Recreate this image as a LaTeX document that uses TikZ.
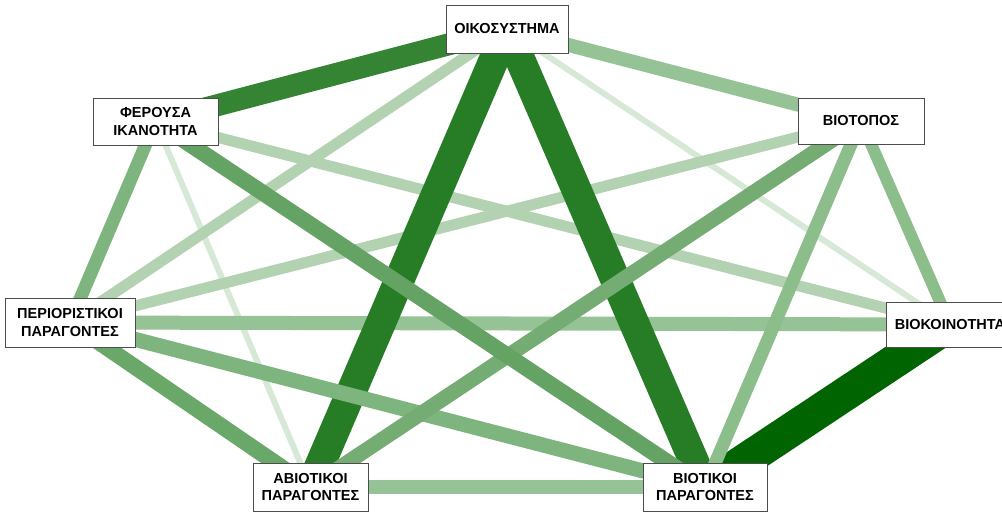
\documentclass[tikz,border=0pt]{standalone}
\usepackage{fontspec}
\setmainfont{Liberation Sans}
\usetikzlibrary{shadows}
\pgfdeclarelayer{background}
\pgfsetlayers{background,main}
\definecolor{ga}{RGB}{0,100,0}
\definecolor{gb}{RGB}{38,125,38}
\definecolor{gc}{RGB}{52,132,52}
\definecolor{gd}{RGB}{100,163,100}
\definecolor{ge}{RGB}{106,168,106}
\definecolor{gf}{RGB}{116,172,116}
\definecolor{gg}{RGB}{126,180,126}
\definecolor{gh}{RGB}{140,190,140}
\definecolor{gi}{RGB}{150,195,150}
\definecolor{gj}{RGB}{178,210,178}
\definecolor{gk}{RGB}{214,232,214}
\begin{document}
\begin{tikzpicture}[x=1pt,y=-1pt,
  box/.style={draw=black!70, line width=0.6pt, fill=white, align=center,
    font=\bfseries\fontsize{14.5}{17.7}\selectfont, inner sep=0pt,
    drop shadow={shadow xshift=1.3pt, shadow yshift=-1.3pt, fill=black!60, opacity=0.5}},
  ed/.style 2 args={line width=#1, draw=#2}]
\useasboundingbox (0,0) rectangle (1002,513);
\node[box, minimum width=122pt, minimum height=48pt] (O) at (507,29) {ΟΙΚΟΣΥΣΤΗΜΑ};
\node[box, minimum width=125pt, minimum height=47pt] (F) at (155.5,121.5) {ΦΕΡΟΥΣΑ\\ΙΚΑΝΟΤΗΤΑ};
\node[box, minimum width=126pt, minimum height=46pt] (B) at (861,121) {ΒΙΟΤΟΠΟΣ};
\node[box, minimum width=130pt, minimum height=49pt] (P) at (70,322.5) {ΠΕΡΙΟΡΙΣΤΙΚΟΙ\\ΠΑΡΑΓΟΝΤΕΣ};
\node[box, minimum width=128pt, minimum height=45pt] (K) at (950,324.5) {ΒΙΟΚΟΙΝΟΤΗΤΑ};
\node[box, minimum width=115pt, minimum height=48pt] (A) at (310.5,487) {ΑΒΙΟΤΙΚΟΙ\\ΠΑΡΑΓΟΝΤΕΣ};
\node[box, minimum width=124pt, minimum height=48pt] (V) at (705,487) {ΒΙΟΤΙΚΟΙ\\ΠΑΡΑΓΟΝΤΕΣ};
\begin{pgfonlayer}{background}
\draw[ed={6pt}{gk}] (F.center) -- (A.center);
\draw[ed={6pt}{gk}] (O.center) -- (K.center);
\draw[ed={11pt}{gj}] (O.center) -- (P.center);
\draw[ed={11pt}{gj}] (B.center) -- (P.center);
\draw[ed={11pt}{gj}] (F.center) -- (K.center);
\draw[ed={14pt}{gi}] (O.center) -- (B.center);
\draw[ed={14pt}{gi}] (P.center) -- (K.center);
\draw[ed={14pt}{gi}] (A.center) -- (V.center);
\draw[ed={30pt}{gb}] (O.center) -- (A.center);
\draw[ed={30pt}{gb}] (O.center) -- (V.center);
\draw[ed={22pt}{gc}] (O.center) -- (F.center);
\draw[ed={34pt}{ga}] (V.center) -- (K.center);
\draw[ed={12pt}{gh}] (B.center) -- (K.center);
\draw[ed={13pt}{gh}] (B.center) -- (V.center);
\draw[ed={13pt}{gg}] (P.center) -- (F.center);
\draw[ed={15pt}{gg}] (P.center) -- (V.center);
\draw[ed={15pt}{gf}] (B.center) -- (A.center);
\draw[ed={16pt}{ge}] (P.center) -- (A.center);
\draw[ed={16pt}{gd}] (F.center) -- (V.center);
\end{pgfonlayer}
\end{tikzpicture}
\end{document}
